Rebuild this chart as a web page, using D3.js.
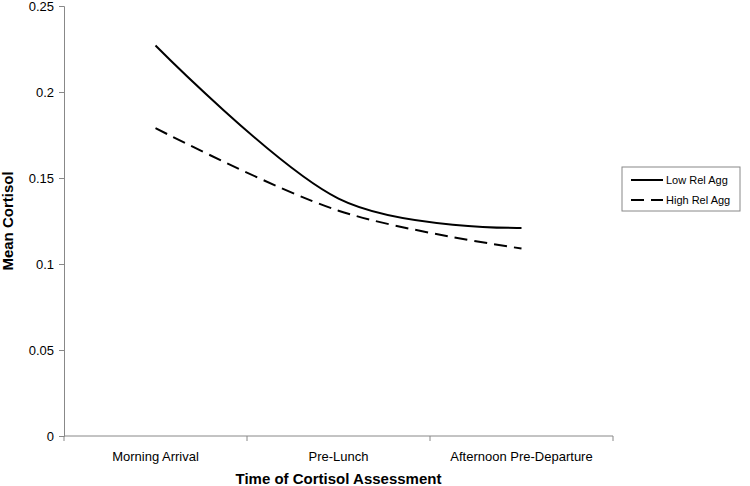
<!DOCTYPE html>
<html>
<head>
<meta charset="utf-8">
<script src="https://cdn.jsdelivr.net/npm/d3@7"></script>
<style>
  body { margin: 0; background: #fff; }
  text { font-family: "Liberation Sans", Arial, sans-serif; }
</style>
</head>
<body>
<svg id="chart" width="750" height="486"></svg>
<script>
// data
const categories = ['Morning Arrival', 'Pre-Lunch', 'Afternoon Pre-Departure'];
const lowRelAgg = [0.227, 0.138, 0.121];
const highRelAgg = [0.179, 0.131, 0.109];
const yTicks = [0, 0.05, 0.1, 0.15, 0.2, 0.25];

const series = [
  { name: 'Low Rel Agg', values: lowRelAgg, dash: null },
  { name: 'High Rel Agg', values: highRelAgg, dash: '13,7' }
];

const svg = d3.select('#chart');
const margin = { left: 64, top: 6, right: 137, bottom: 50 };
const width = 750 - margin.left - margin.right;
const height = 486 - margin.top - margin.bottom;

const g = svg.append('g').attr('transform', `translate(${margin.left},${margin.top})`);

const x = d3.scaleBand().domain(categories).range([0, width]);
const y = d3.scaleLinear().domain([0, 0.25]).range([height, 0]);

// y axis
const yAxis = g.append('g')
  .call(d3.axisLeft(y).tickValues(yTicks).tickFormat(d3.format('')).tickSize(5).tickPadding(5));
yAxis.select('.domain').attr('stroke', '#888');
yAxis.selectAll('.tick line').attr('stroke', '#888');
yAxis.selectAll('.tick text').style('font-size', '13px').attr('fill', '#000');

// x axis, ticks sit on category boundaries
const xAxis = g.append('g').attr('transform', `translate(0,${height})`);
xAxis.append('line')
  .attr('x1', 0).attr('x2', width)
  .attr('stroke', '#888');
xAxis.selectAll('line.tk')
  .data(categories.concat(['end']))
  .enter()
  .append('line')
  .attr('class', 'tk')
  .attr('x1', (d, i) => i * x.bandwidth())
  .attr('x2', (d, i) => i * x.bandwidth())
  .attr('y1', 0).attr('y2', 5)
  .attr('stroke', '#888');
xAxis.selectAll('text')
  .data(categories)
  .enter()
  .append('text')
  .attr('x', d => x(d) + x.bandwidth() / 2)
  .attr('y', 25)
  .attr('text-anchor', 'middle')
  .style('font-size', '13px')
  .text(d => d);

// lines
const line = d3.line()
  .x((d, i) => x(categories[i]) + x.bandwidth() / 2)
  .y(d => y(d))
  .curve(d3.curveCardinal.tension(0));

g.selectAll('path.series')
  .data(series)
  .enter()
  .append('path')
  .attr('class', 'series')
  .attr('d', d => line(d.values))
  .attr('fill', 'none')
  .attr('stroke', '#000')
  .attr('stroke-width', 2)
  .attr('stroke-dasharray', d => d.dash);

// axis titles
svg.append('text')
  .attr('x', margin.left + width / 2)
  .attr('y', 484)
  .attr('text-anchor', 'middle')
  .style('font-size', '15px')
  .style('font-weight', 'bold')
  .text('Time of Cortisol Assessment');

svg.append('text')
  .attr('transform', `translate(13,${margin.top + height / 2}) rotate(-90)`)
  .attr('text-anchor', 'middle')
  .style('font-size', '15px')
  .style('font-weight', 'bold')
  .text('Mean Cortisol');

// legend
const legend = svg.append('g').attr('transform', 'translate(622,167)');
legend.append('rect')
  .attr('width', 118).attr('height', 44)
  .attr('fill', '#fff')
  .attr('stroke', '#888');
const items = legend.selectAll('g.item')
  .data(series)
  .enter()
  .append('g')
  .attr('class', 'item')
  .attr('transform', (d, i) => `translate(0,${13 + i * 20})`);
items.append('line')
  .attr('x1', 9).attr('x2', 41)
  .attr('stroke', '#000')
  .attr('stroke-width', 2)
  .attr('stroke-dasharray', d => d.dash);
items.append('text')
  .attr('x', 44).attr('y', 4)
  .style('font-size', '11px')
  .text(d => d.name);
</script>
</body>
</html>
